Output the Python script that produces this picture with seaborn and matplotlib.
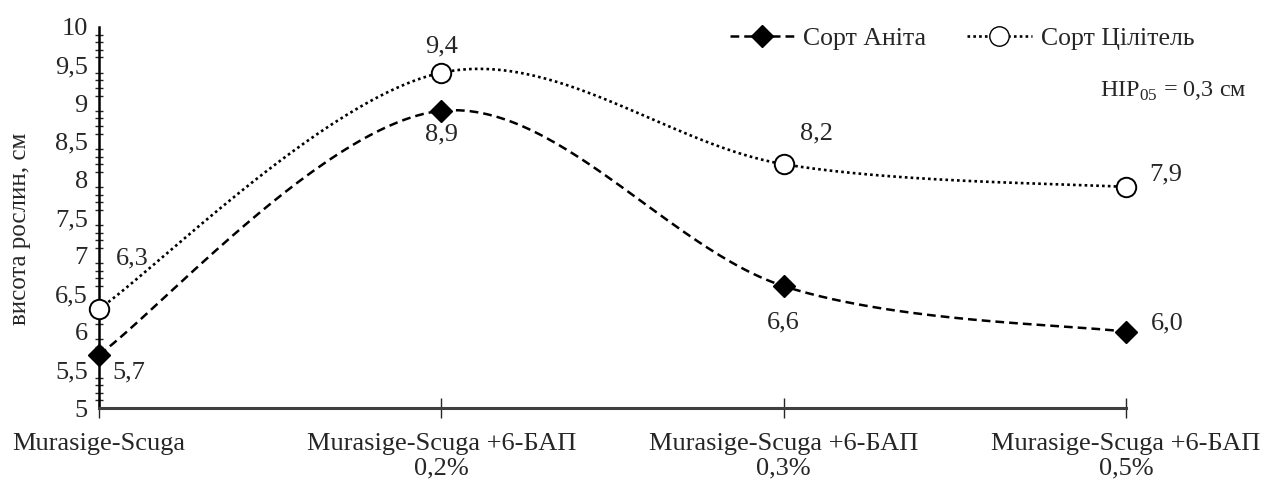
import numpy as np
import pandas as pd
import matplotlib
matplotlib.use("Agg")
import matplotlib.pyplot as plt
import seaborn as sns
from matplotlib.lines import Line2D
from matplotlib.ticker import MultipleLocator, FuncFormatter

# =========================
# Data
# =========================
categories = ["Murasige-Scuga",
              "Murasige-Scuga +6-БАП\n0,2%",
              "Murasige-Scuga +6-БАП\n0,3%",
              "Murasige-Scuga +6-БАП\n0,5%"]
anita = [5.7, 8.9, 6.6, 6.0]
tsilytel = [6.3, 9.4, 8.2, 7.9]
series_names = ["Сорт Аніта", "Сорт Цілітель"]

sns.set_style("white")
plt.rcParams["font.family"] = ["Liberation Serif", "DejaVu Serif"]
plt.rcParams["mathtext.fontset"] = "custom"
plt.rcParams["mathtext.rm"] = "Liberation Serif"


def smooth(y, n=60):
    # Excel-like smoothed line (Bezier through the points)
    x = np.arange(len(y), dtype=float)
    pts = np.column_stack([x, y])
    ext = np.vstack([pts[0], pts, pts[-1]])
    out = []
    for i in range(len(pts) - 1):
        p0, p1, p2, p3 = ext[i], ext[i + 1], ext[i + 2], ext[i + 3]
        c1 = p1 + (p2 - p0) / 6
        c2 = p2 - (p3 - p1) / 6
        t = np.linspace(0, 1, n)[:, None]
        seg = ((1 - t) ** 3) * p1 + 3 * ((1 - t) ** 2) * t * c1 + 3 * (1 - t) * t ** 2 * c2 + t ** 3 * p2
        out.append(seg)
    out = np.vstack(out)
    return pd.DataFrame({"x": out[:, 0], "y": out[:, 1]})


fig = plt.figure(figsize=(12.64, 4.82), dpi=100)
ax = fig.add_axes([0.0783, 0.1535, 0.8125, 0.7905])

xs = np.arange(len(categories))
dash_a = (0, (3.5, 2))
dot_t = (0, (1, 1.2))

sm_a = smooth(anita)
sm_t = smooth(tsilytel)
sns.lineplot(data=sm_a, x="x", y="y", ax=ax, color="black", lw=1.8,
             linestyle=dash_a, sort=False, estimator=None)
sns.lineplot(data=sm_t, x="x", y="y", ax=ax, color="black", lw=1.9,
             linestyle=dot_t, sort=False, estimator=None)

ax.plot(xs, anita, linestyle="none", marker="D", ms=11, color="black", zorder=5, clip_on=False)
ax.plot(xs, tsilytel, linestyle="none", marker="o", ms=14, mfc="white", mec="black",
        mew=1.4, zorder=5, clip_on=False)

# value labels
fmt = lambda v: f"{v:.1f}".replace(".", ",")
fs = 19
offs_a = [(10, -13, "left"), (0, -17, "center"), (0, -26, "center"), (18, 6, "left")]
offs_t = [(12, 36, "left"), (0, 19, "center"), (12, 22, "left"), (17, 9, "left")]
for i in range(len(xs)):
    dx, dy, ha = offs_a[i]
    ax.annotate(fmt(anita[i]), (xs[i], anita[i]), xytext=(dx, dy), textcoords="offset points",
                ha=ha, va="center", fontsize=fs)
    dx, dy, ha = offs_t[i]
    ax.annotate(fmt(tsilytel[i]), (xs[i], tsilytel[i]), xytext=(dx, dy), textcoords="offset points",
                ha=ha, va="center", fontsize=fs)

# axes
ax.set_xlim(0, 3)
ax.set_ylim(5, 10)
ax.set_xticks(xs)
ax.set_xticklabels(categories, fontsize=fs, linespacing=1.15)
ax.yaxis.set_major_locator(MultipleLocator(0.5))
ax.yaxis.set_minor_locator(MultipleLocator(0.1))
ax.yaxis.set_major_formatter(FuncFormatter(lambda v, p: f"{v:g}".replace(".", ",")))
ax.tick_params(axis="y", which="major", direction="inout", length=10, width=1.4, labelsize=fs, pad=3)
ax.tick_params(axis="y", which="minor", direction="inout", length=6, width=1.0, left=True)
ax.tick_params(axis="x", which="major", direction="inout", length=14, width=1.0, pad=11, bottom=True)
ax.set_ylabel("висота рослин, см", fontsize=18)
ax.yaxis.set_label_coords(-0.066, 0.47)
ax.set_xlabel("")
for s in ["top", "right"]:
    ax.spines[s].set_visible(False)
ax.spines["left"].set_color("black")
ax.spines["left"].set_linewidth(1.8)
ax.spines["bottom"].set_color("#404040")
ax.spines["bottom"].set_linewidth(2.2)
ax.grid(False)

handles = [Line2D([], [], color="black", lw=1.8, linestyle=dash_a, marker="D", ms=11),
           Line2D([], [], color="black", lw=1.9, linestyle=dot_t, marker="o", ms=14,
                  mfc="white", mec="black")]
leg = fig.legend(handles, series_names, loc="center right", bbox_to_anchor=(0.963, 0.92),
                 ncol=2, frameon=False, fontsize=18.5, handlelength=2.5, columnspacing=1.6,
                 handletextpad=0.35)

fig.text(0.986, 0.81, "НІР$_{\\mathrm{05}}$ = 0,3 см", ha="right", va="center", fontsize=17.5)

fig.savefig("out.png", dpi=100)
plt.close()
